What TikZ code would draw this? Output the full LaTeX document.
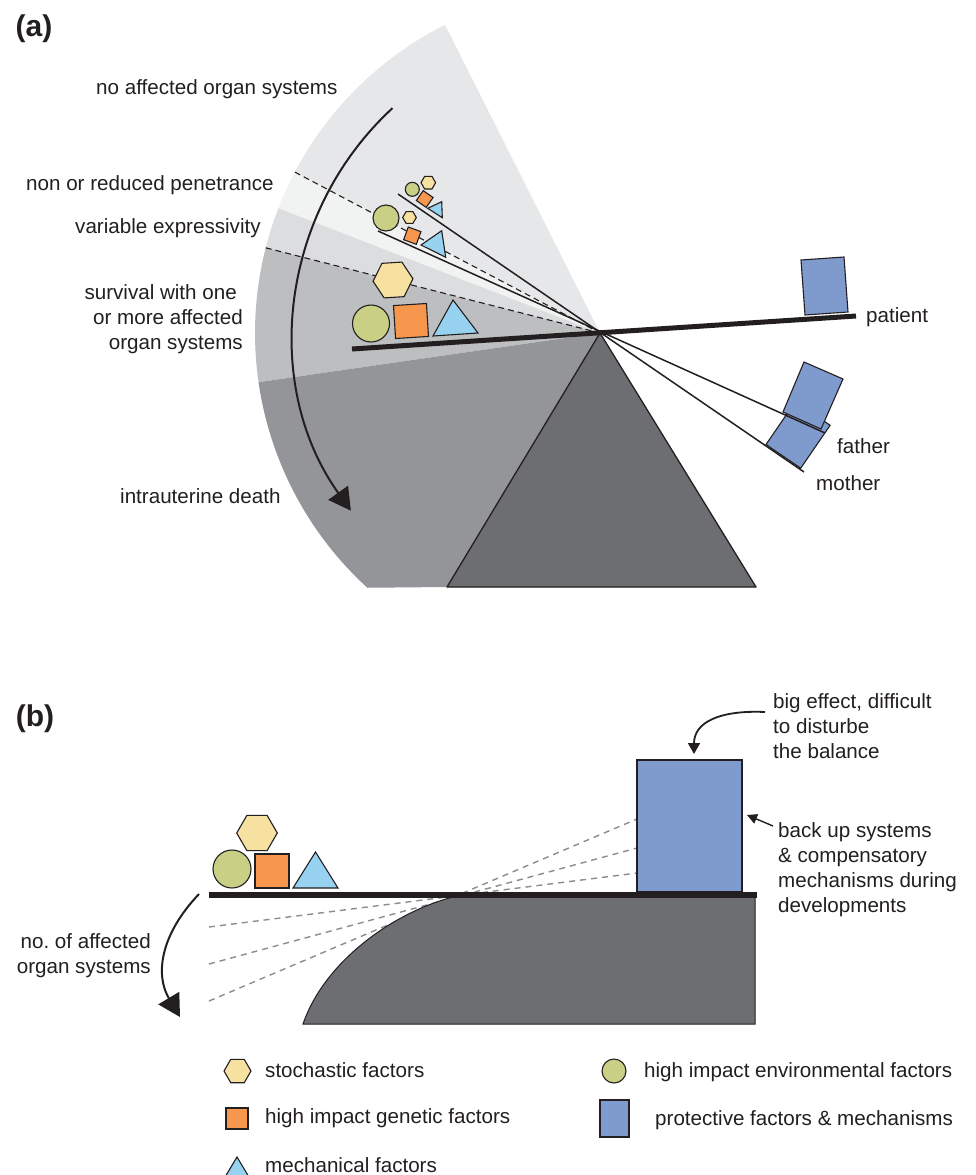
\documentclass[tikz,border=0pt]{standalone}
\usepackage{fontspec}
\setmainfont{Liberation Sans}
\usetikzlibrary{arrows.meta,calc}
\definecolor{txt}{HTML}{231F20}
\definecolor{bandA}{HTML}{E6E7E8}
\definecolor{bandB}{HTML}{F1F2F2}
\definecolor{bandC}{HTML}{DCDDDE}
\definecolor{bandD}{HTML}{BCBEC0}
\definecolor{bandE}{HTML}{939598}
\definecolor{fulcrum}{HTML}{6D6E71}
\definecolor{hexc}{HTML}{F7E1A0}
\definecolor{circc}{HTML}{C9D086}
\definecolor{sqc}{HTML}{F6974D}
\definecolor{tric}{HTML}{97D2F0}
\definecolor{protc}{HTML}{7F9BCE}
\definecolor{dashc}{HTML}{8A8C8E}
\tikzset{
  lbl/.style={text=txt, inner sep=0pt, font=\fontsize{20.6}{25}\selectfont},
  panel/.style={text=txt, inner sep=0pt, font=\fontsize{30}{36}\selectfont\bfseries},
  shp/.style={draw=txt, line width=1.1pt, line join=miter},
  hexs/.style={shp, fill=hexc},
  circs/.style={shp, fill=circc},
  sqs/.style={shp, fill=sqc},
  tris/.style={shp, fill=tric},
  prots/.style={shp, fill=protc},
  lever/.style={draw=txt, line width=1.5pt},
  beam/.style={draw=txt, line width=5pt},
  bandline/.style={draw=txt, line width=1.1pt, dash pattern=on 6pt off 4pt},
  gdash/.style={draw=dashc, line width=1.4pt, dash pattern=on 6pt off 5pt},
  bigarrow/.style={draw=txt, line width=2pt, -{Triangle[length=22pt,width=24pt]}},
  smallarrow/.style={draw=txt, line width=1.8pt, -{Triangle[length=11pt,width=12pt]}},
}
\newcommand{\hexg}[3][0]{\path[hexs, shift={(#2)}, rotate=#1] (0:#3) -- (60:#3) -- (120:#3) -- (180:#3) -- (240:#3) -- (300:#3) -- cycle;}
\newcommand{\sqg}[3][0]{\path[sqs, shift={(#2)}, rotate=#1] (-#3/2,-#3/2) -- (#3/2,-#3/2) -- (#3/2,#3/2) -- (-#3/2,#3/2) -- cycle;}
\begin{document}
\begin{tikzpicture}[x=1pt,y=-1pt]
\useasboundingbox (0,0) rectangle (976,1175);
\fill[white] (0,0) rectangle (976,1175);

% ---------------- panel (a) ----------------
\coordinate (P) at (600,333);
\fill[bandA] (P) -- ($(P)+(-116.7:345)$) arc[start angle=-116.7, end angle=-152.2, radius=345] -- cycle;
\fill[bandB] (P) -- ($(P)+(-152.2:345)$) arc[start angle=-152.2, end angle=-158.8, radius=345] -- cycle;
\fill[bandC] (P) -- ($(P)+(-158.8:345)$) arc[start angle=-158.8, end angle=-165.7, radius=345] -- cycle;
\fill[bandD] (P) -- ($(P)+(-165.7:345)$) arc[start angle=-165.7, end angle=-188.2, radius=345] -- cycle;
\fill[bandE] (P) -- ($(P)+(-188.2:345)$) arc[start angle=-188.2, end angle=-227.6, radius=345] -- (447,587) -- cycle;
\draw[bandline] ($(P)+(-152.2:345)$) -- (P);
\draw[bandline] ($(P)+(-165.7:345)$) -- (P);

% fulcrum
\draw[fill=fulcrum, draw=txt, line width=1.3pt, line join=round] (P) -- (447,587) -- (756,587) -- cycle;

% curved arrow
\draw[bigarrow] ($(P)+(-132.7:306)$) arc[start angle=-132.7, end angle=-215.5, radius=306];

% mother lever and box
\draw[lever] (398,194) -- (804,472);
\draw[prots] (766,444.5) -- (800.7,468.2) -- (830.1,425.3) -- (795.4,401.6) -- cycle;
% father lever and box
\draw[lever] (378,231) -- (825,433);
\draw[prots] (783,412) -- (821,429) -- (843,379) -- (804,362) -- cycle;
% patient beam and box
\draw[beam] (352,349) -- (856,316);
\draw[prots] (801,260) -- (844,257) -- (848,312) -- (805,315) -- cycle;

% shapes on the mother lever (smallest)
\draw[circs] (412.3,189.3) circle[radius=7];
\hexg{428.3,182.7}{7.3}
\sqg[-35]{424.7,199}{12}
\draw[tris] (427.7,208.3) -- (442.3,217.7) -- (441.7,201.7) -- cycle;

% shapes on the father lever
\draw[circs] (386,218) circle[radius=13];
\hexg{409.5,217.5}{6.8}
\sqg[-20]{412.3,235.7}{13.5}
\draw[tris] (421,245) -- (445.7,257.3) -- (441.7,230.7) -- cycle;

% shapes on the patient beam
\hexg[3.6]{393,280}{20}
\draw[circs] (371,323.5) circle[radius=18.5];
\sqg[3.6]{411,321}{33}
\draw[tris] (433,336) -- (478,333) -- (453,300) -- cycle;

% labels (a)
\node[panel] (la) at (34,29) {(a)};
\node[lbl, anchor=base west] (noaff) at (96,94) {no affected organ systems};
\node[lbl, anchor=base west] (nonpen) at (26,190) {non or reduced penetrance};
\node[lbl, anchor=base west] (varexp) at (75,233) {variable expressivity};
\node[lbl, anchor=north east, align=right] (surv) at (243,284) {survival with one\hspace*{6pt}\\or more affected\\organ systems};
\node[lbl, anchor=base west] (death) at (120,503) {intrauterine death};
\node[lbl, anchor=base west] (patient) at (866,322) {patient};
\node[lbl, anchor=base west] (father) at (837,453) {father};
\node[lbl, anchor=base west] (mother) at (816,490) {mother};

% ---------------- panel (b) ----------------
\node[panel] (lb) at (35,719) {(b)};
\draw[gdash] (209,927) -- (637,873);
\draw[gdash] (209,964) -- (637,848);
\draw[gdash] (209,1001) -- (637,819);
\draw[fill=fulcrum, draw=txt, line width=1pt] (453,897) .. controls (395,912) and (325,960) .. (303,1024) -- (755,1024) -- (755,897) -- cycle;
\draw[prots] (637,760) rectangle (742,892);
\draw[draw=txt, line width=6pt] (209,895) -- (757,895);

\draw[circs] (232,869) circle[radius=19];
\path[sqs] (255,854) -- (289,854) -- (289,888) -- (255,888) -- cycle;
\draw[tris] (293,888) -- (338,888) -- (315.5,852) -- cycle;
\hexg{257,833}{20.3}

\coordinate (ba1) at (199,894);
\coordinate (ba2) at (180,1017);
\draw[bigarrow] (ba1) .. controls (160,935) and (155,975) .. (ba2);
\node[lbl, anchor=north east, align=right] (noof) at (151,933) {no.\ of affected\\organ systems};

\node[lbl, anchor=north west, align=left] (big) at (773,693) {big effect, difficult\\to disturbe\\the balance};
\coordinate (bg1) at (765,712);
\coordinate (bg2) at (694,754);
\draw[smallarrow] (bg1) .. controls (720,710) and (694,722) .. (bg2);

\node[lbl, anchor=north west, align=left] (backup) at (778,822) {back up systems\\\& compensatory\\mechanisms during\\developments};
\coordinate (bu1) at (773,826);
\coordinate (bu2) at (747,815);
\draw[draw=txt, line width=1.4pt, -{Triangle[length=10pt,width=10pt]}] (bu1) -- (bu2);

% ---------------- legend ----------------
\hexg{237.5,1071}{13.5}
\node[lbl, anchor=base west] (lg1) at (265,1077) {stochastic factors};
\path[sqs] (226,1108) -- (248,1108) -- (248,1129) -- (226,1129) -- cycle;
\node[lbl, anchor=base west] (lg2) at (265,1123) {high impact genetic factors};
\draw[tris] (222,1182) -- (252,1182) -- (237,1157) -- cycle;
\node[lbl, anchor=base west] (lg3) at (265,1172) {mechanical factors};
\draw[circs] (614,1071) circle[radius=12];
\node[lbl, anchor=base west] (lg4) at (644,1077) {high impact environmental factors};
\draw[prots] (600,1100) rectangle (629,1137);
\node[lbl, anchor=base west] (lg5) at (655,1125) {protective factors \& mechanisms};
\end{tikzpicture}
\end{document}
